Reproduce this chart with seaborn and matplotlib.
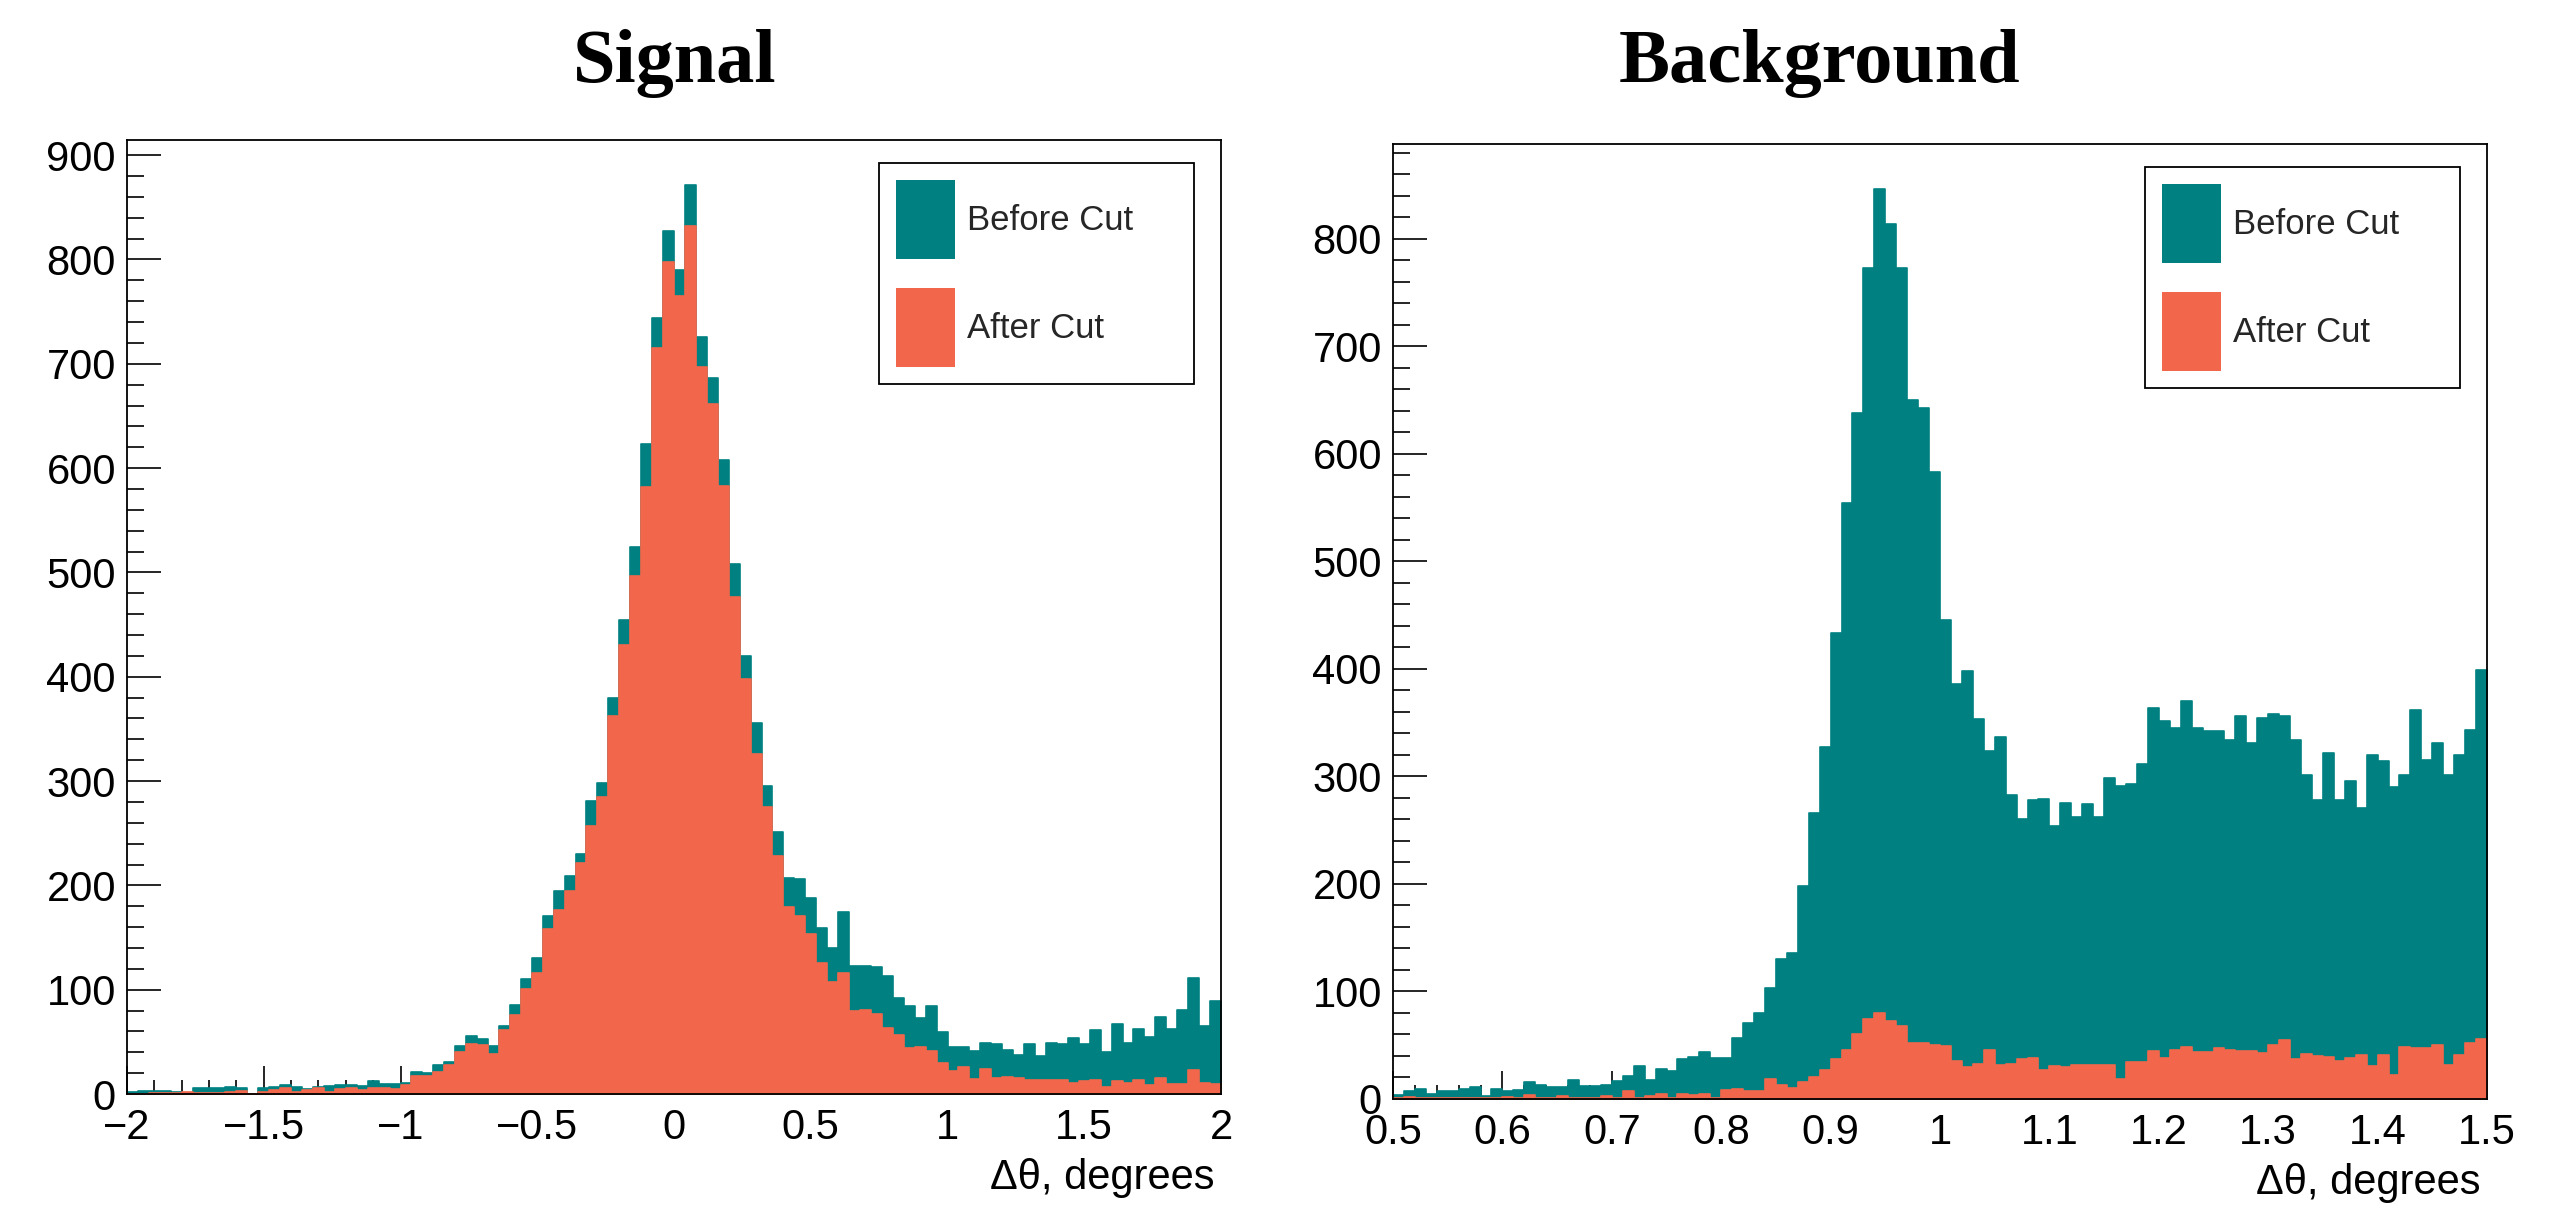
import numpy as np
import pandas as pd
import matplotlib
matplotlib.use("Agg")
import matplotlib.pyplot as plt
import seaborn as sns
from matplotlib.patches import Patch
from matplotlib.ticker import MultipleLocator, FuncFormatter

# ---- Signal: delta-theta, 100 bins over [-2, 2] ----
signal_range = (-2.0, 2.0)
signal_before = [
    2, 3, 3, 3, 2, 1, 6, 6, 6, 7,
    6, 0, 6, 7, 9, 7, 5, 7, 8, 9,
    9, 8, 12, 10, 10, 11, 21, 20, 28, 31,
    46, 56, 53, 46, 65, 85, 110, 130, 171, 195,
    209, 230, 281, 298, 380, 454, 524, 623, 744, 827,
    790, 871, 726, 686, 608, 508, 420, 356, 295, 251,
    207, 206, 188, 159, 140, 174, 123, 123, 122, 113,
    92, 84, 73, 84, 59, 45, 45, 41, 49, 48,
    42, 37, 48, 36, 49, 48, 54, 48, 61, 40,
    67, 49, 62, 55, 74, 62, 81, 111, 65, 89,
]
signal_after = [
    0, 0, 1, 1, 1, 2, 1, 1, 1, 2,
    3, 0, 2, 4, 6, 2, 4, 6, 2, 5,
    6, 4, 6, 6, 5, 9, 17, 17, 21, 28,
    40, 48, 47, 38, 61, 76, 101, 116, 158, 176,
    195, 221, 257, 285, 362, 430, 497, 582, 715, 798,
    765, 832, 697, 661, 583, 476, 398, 326, 275, 228,
    179, 171, 153, 126, 107, 116, 80, 81, 77, 63,
    57, 44, 45, 41, 30, 22, 26, 14, 24, 15,
    16, 15, 13, 13, 13, 13, 11, 12, 13, 7,
    12, 11, 13, 9, 15, 10, 10, 23, 11, 10,
]

# ---- Background: delta-theta, 100 bins over [0.5, 1.5] ----
background_range = (0.5, 1.5)
background_before = [
    4, 7, 9, 5, 7, 7, 9, 11, 3, 9,
    7, 8, 16, 13, 11, 11, 18, 12, 12, 13,
    17, 21, 31, 18, 28, 26, 37, 39, 44, 38,
    38, 57, 71, 80, 103, 130, 136, 198, 266, 327,
    433, 554, 638, 773, 846, 814, 773, 650, 643, 583,
    446, 386, 398, 353, 324, 337, 283, 260, 278, 279,
    254, 275, 262, 274, 262, 299, 291, 293, 312, 364,
    352, 345, 370, 345, 342, 342, 334, 356, 331, 354,
    358, 356, 334, 301, 278, 322, 278, 296, 271, 320,
    314, 290, 301, 362, 315, 331, 301, 320, 343, 399,
]
background_after = [
    1, 2, 1, 1, 1, 1, 1, 1, 1, 1,
    2, 1, 4, 1, 1, 3, 1, 1, 1, 3,
    1, 7, 1, 3, 5, 1, 5, 4, 5, 1,
    8, 9, 7, 7, 19, 13, 10, 16, 20, 27,
    37, 46, 60, 74, 80, 73, 68, 52, 52, 50,
    49, 35, 30, 33, 46, 32, 33, 37, 38, 27,
    31, 30, 32, 32, 32, 32, 19, 34, 34, 45,
    38, 46, 48, 44, 44, 47, 46, 45, 45, 43,
    50, 55, 37, 42, 40, 39, 35, 38, 41, 31,
    41, 22, 48, 47, 47, 50, 32, 41, 52, 56,
]

series_labels = ["Before Cut", "After Cut"]
panel_titles = ["Signal", "Background"]
x_label = "\u0394\u03b8, degrees"

TEAL = "#008080"
SALMON = "#F2674B"

sns.set_theme(style="white")
plt.rcParams["font.family"] = ["Liberation Sans", "DejaVu Sans"]
plt.rcParams["axes.unicode_minus"] = True

W, H = 2556, 1208
fig = plt.figure(figsize=(W / 100, H / 100), dpi=100)
fig.patch.set_facecolor("white")


def px_axes(x0, x1, y0, y1):
    return fig.add_axes([x0 / W, 1 - y1 / H, (x1 - x0) / W, (y1 - y0) / H])


def tick_fmt(v, _pos):
    s = "%g" % round(v, 6)
    return s.replace("-", "\u2212")


def draw_panel(ax, rng, before, after, xmajor, xminor):
    n = len(before)
    width = (rng[1] - rng[0]) / n
    centers = rng[0] + width * (np.arange(n) + 0.5)
    df = pd.DataFrame({
        "dtheta": np.concatenate([centers, centers]),
        "count": np.asarray(before + after, dtype=float),
        "stage": [series_labels[0]] * n + [series_labels[1]] * n,
    })
    for stage, col in zip(series_labels, [TEAL, SALMON]):
        sns.histplot(data=df[df["stage"] == stage], x="dtheta", weights="count",
                     bins=n, binrange=rng, element="step", fill=True, color=col,
                     edgecolor=col, alpha=1, linewidth=1.2, ax=ax)

    ax.set_xlim(*rng)
    ax.set_ylim(0, 1.05 * max(before))
    ax.set_ylabel("")
    ax.set_xlabel(x_label, fontsize=30, color="black")
    ax.xaxis.set_label_coords(0.994, -0.088)
    ax.xaxis.label.set_ha("right")
    ax.xaxis.label.set_va("center")

    ax.xaxis.set_major_locator(MultipleLocator(xmajor))
    ax.xaxis.set_minor_locator(MultipleLocator(xminor))
    ax.yaxis.set_major_locator(MultipleLocator(100))
    ax.yaxis.set_minor_locator(MultipleLocator(20))
    ax.xaxis.set_major_formatter(FuncFormatter(tick_fmt))
    ax.yaxis.set_major_formatter(FuncFormatter(tick_fmt))

    ax.tick_params(axis="both", which="both", direction="in", colors="black",
                   width=1.2, top=False, right=False, bottom=True, left=True,
                   labelsize=30)
    ax.tick_params(axis="y", which="major", length=24.5, pad=8)
    ax.tick_params(axis="y", which="minor", length=12.2)
    ax.tick_params(axis="x", which="major", length=20, pad=10)
    ax.tick_params(axis="x", which="minor", length=10)
    for sp in ax.spines.values():
        sp.set_visible(True)
        sp.set_color("black")
        sp.set_linewidth(1.3)
    ax.set_facecolor("white")
    ax.grid(False)

    handles = [Patch(facecolor=TEAL, edgecolor="none"),
               Patch(facecolor=SALMON, edgecolor="none")]
    leg = ax.legend(handles, series_labels, loc="upper left",
                    bbox_to_anchor=(0.6874, 0.7495, 0.288, 0.2264),
                    mode="expand", borderaxespad=0, fontsize=25,
                    handlelength=1.7, handleheight=3.1, labelspacing=0.85,
                    handletextpad=0.32, borderpad=0.5, fancybox=False,
                    framealpha=1, edgecolor="black", frameon=True)
    leg.get_frame().set_linewidth(1.3)


ax_sig = px_axes(127, 1221, 140, 1094)
draw_panel(ax_sig, signal_range, signal_before, signal_after, 0.5, 0.1)

ax_bkg = px_axes(1393, 2487, 144, 1099)
draw_panel(ax_bkg, background_range, background_before, background_after, 0.1, 0.02)

title_kw = dict(ha="center", va="baseline", fontsize=55, fontweight="bold",
                family=["Liberation Serif", "DejaVu Serif"], color="black")
fig.text(675 / W, 1 - 82 / H, panel_titles[0], **title_kw)
fig.text(1819 / W, 1 - 82 / H, panel_titles[1], **title_kw)

fig.savefig("out.png", dpi=100, facecolor="white")
